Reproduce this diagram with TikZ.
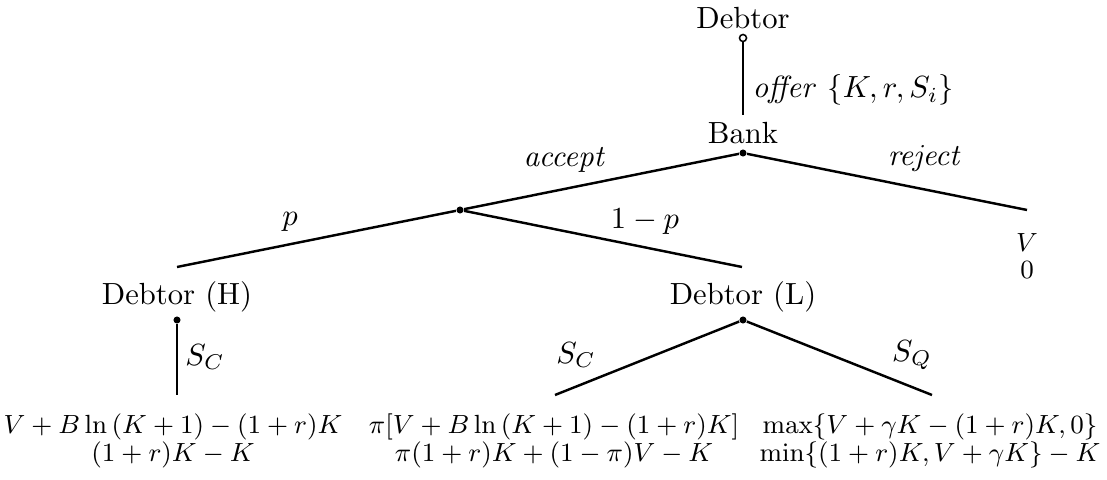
\documentclass[tikz,border=0pt]{standalone}
\begin{document}
\begin{tikzpicture}[x=0.3268pt,y=-0.3268pt,
  dot/.style={circle,fill=black,inner sep=0pt,minimum size=2.3pt},
  odot/.style={circle,draw=black,fill=white,line width=0.5pt,inner sep=0pt,minimum size=2.3pt},
  edge/.style={line width=0.8pt},
  lbl/.style={inner sep=0pt},
  pay/.style={inner sep=0pt,align=center,scale=0.955,font=\fontsize{9pt}{9.3pt}\selectfont}]
\useasboundingbox (0,0) rectangle (1107,479);
% player labels
\node[lbl] (tDebtor) at (743,18) {Debtor};
\node[odot] (root) at (743,38) {};
\node[lbl] (tBank) at (743,133) {Bank};
\coordinate (rootend) at (743,115);
\node[dot] (bank) at (743,153) {};
\node[dot] (chance) at (460,210) {};
\coordinate (rej) at (1027,210);
\coordinate (hend) at (177,267);
\coordinate (lend) at (742,267);
\node[lbl] (tH) at (177,297) {Debtor (H)};
\node[lbl] (tL) at (743,297) {Debtor (L)};
\node[dot] (dH) at (177,320) {};
\node[dot] (dL) at (743,320) {};
\coordinate (hSC) at (177,395);
\coordinate (lSC) at (555,395);
\coordinate (lSQ) at (932,395);
% edges
\draw[edge] (root) -- (rootend);
\draw[edge] (bank) -- (chance);
\draw[edge] (bank) -- (rej);
\draw[edge] (chance) -- (hend);
\draw[edge] (chance) -- (lend);
\draw[edge] (dH) -- (hSC);
\draw[edge] (dL) -- (lSC);
\draw[edge] (dL) -- (lSQ);
% edge labels
\node[lbl,anchor=west] (lOffer) at (752,90) {$\mathit{offer}\ \{K,r,S_i\}$};
\node[lbl] (lAcc) at (565,160) {$\mathit{accept}$};
\node[lbl] (lRej) at (925,158) {$\mathit{reject}$};
\node[lbl] (lp) at (290,222) {$p$};
\node[lbl] (l1p) at (645,222) {$1-p$};
\node[lbl] (lHSC) at (205,357) {$S_C$};
\node[lbl] (lLSC) at (576,355) {$S_C$};
\node[lbl] (lLSQ) at (912,355) {$S_Q$};
% payoffs
\node[pay] (pRej) at (1027,256) {$V$\\$0$};
\node[pay] (pH) at (173,441) {$V+B\ln\left(K+1\right)-(1+r)K$\\$(1+r)K-K$};
\node[pay] (pLC) at (554,441) {$\pi[V+B\ln\left(K+1\right)-(1+r)K]$\\$\pi(1+r)K+(1-\pi)V-K$};
\node[pay] (pLQ) at (930,441) {$\max\{V+\gamma K-(1+r)K,0\}$\\$\min\{(1+r)K,V+\gamma K\}-K$};
\end{tikzpicture}
\end{document}
